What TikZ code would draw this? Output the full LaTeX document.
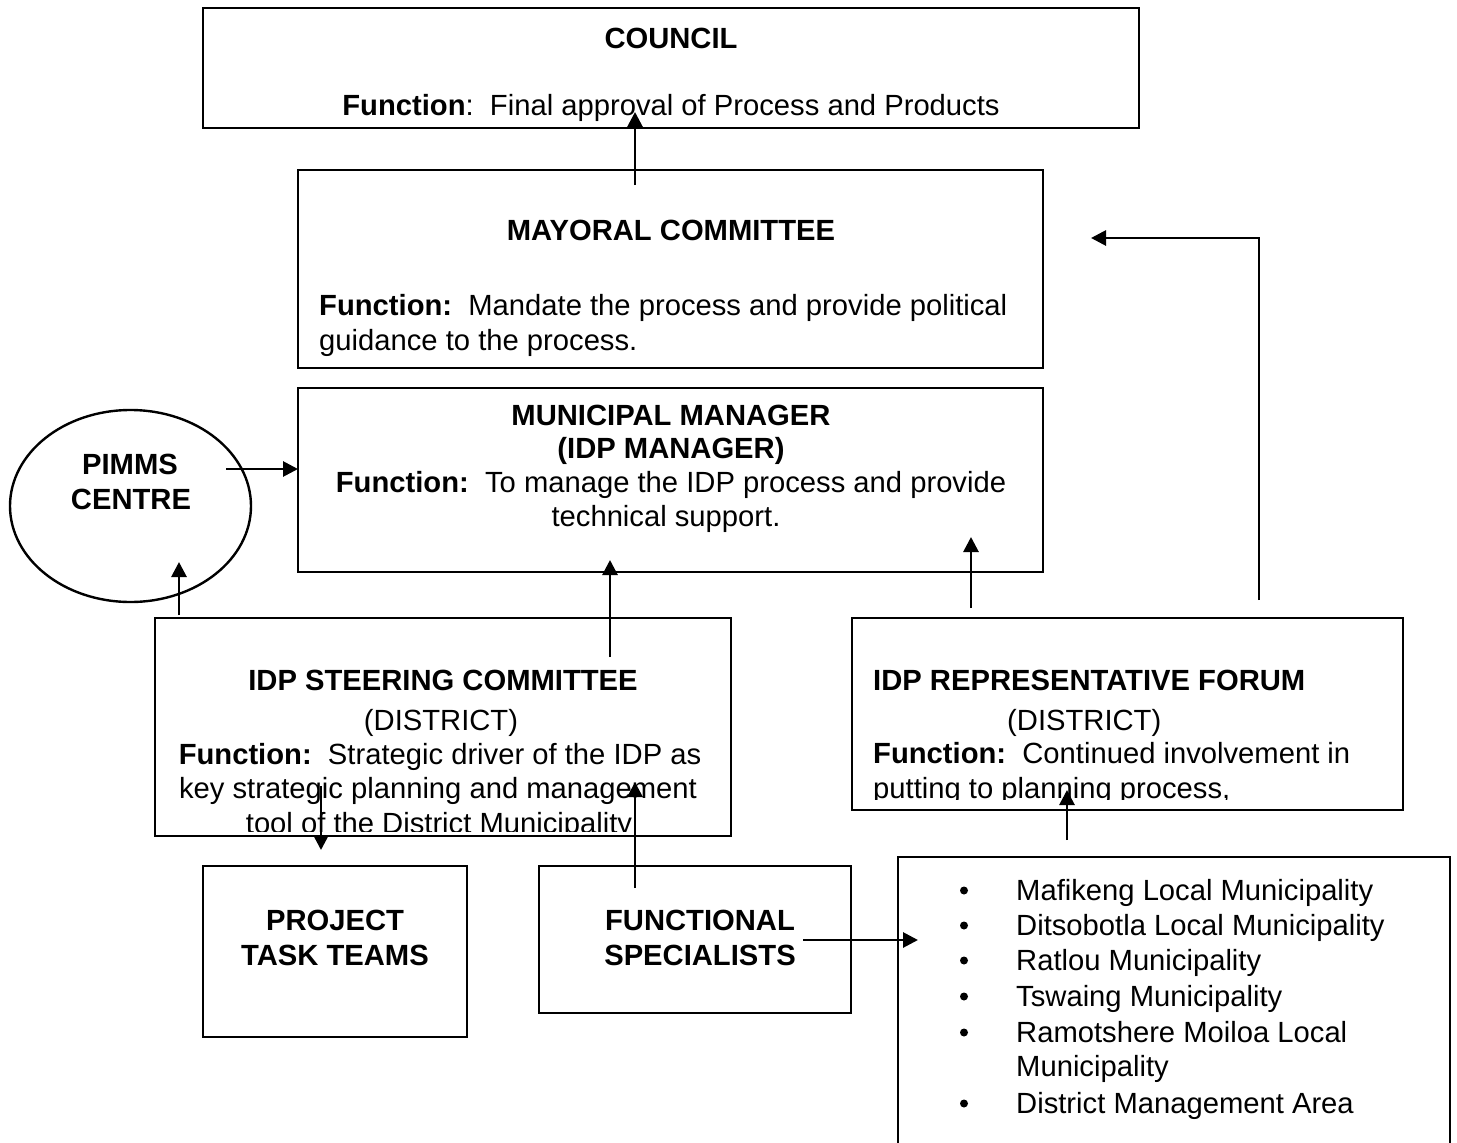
\documentclass[tikz,border=0pt]{standalone}
\usepackage{fontspec}
\setmainfont{Liberation Sans}
\usetikzlibrary{arrows.meta,shapes.geometric}
\begin{document}
\begin{tikzpicture}[x=1pt,y=-1pt,
  box/.style={draw, line width=2.4pt, inner sep=0pt},
  txt/.style={inner sep=0pt, anchor=base, font=\fontsize{29.2}{34}\selectfont},
  ltxt/.style={txt, anchor=base west},
  arr/.style={line width=2.8pt, -{Triangle[length=15pt,width=15pt]}},
  bul/.style={circle, fill=black, inner sep=0pt, minimum size=8pt}]
\clip (0,0) rectangle (1457,1143);
\fill[white] (0,0) rectangle (1457,1143);

% boxes
\node[box, minimum width=936pt, minimum height=120pt] (council) at (671,68) {};
\node[box, minimum width=745pt, minimum height=198pt] (mayor) at (670.5,269) {};
\node[box, minimum width=745pt, minimum height=184pt] (mm) at (670.5,480) {};
\node[box, ellipse, minimum width=241pt, minimum height=192pt] (pimms) at (130.5,506) {};
\node[box, minimum width=576pt, minimum height=218pt] (steer) at (443,727) {};
\node[box, minimum width=551pt, minimum height=192pt] (forum) at (1127.5,714) {};
\node[box, minimum width=264pt, minimum height=171pt] (ptt) at (335,951.5) {};
\node[box, minimum width=312pt, minimum height=147pt] (fs) at (695,939.5) {};
\node[box, minimum width=552pt, minimum height=303pt] (list) at (1174,1008.5) {};

% council
\node[txt] (councilT) at (671,48.5) {\bfseries COUNCIL};
\node[txt] (councilF) at (671,115.5) {\textbf{Function}:\ \ Final approval of Process and Products};
% mayoral
\node[txt] (mayorT) at (671,240.5) {\bfseries MAYORAL COMMITTEE};
\node[ltxt] (mayorF1) at (319,315.5) {\textbf{Function:}\ \ Mandate the process and provide political};
\node[ltxt] (mayorF2) at (319,350.5) {guidance to the process.};
% municipal manager
\node[txt] (mmT1) at (671,425.5) {\bfseries MUNICIPAL MANAGER};
\node[txt] (mmT2) at (671,458.5) {\bfseries (IDP MANAGER)};
\node[txt] (mmF1) at (671,492.5) {\textbf{Function:}\ \ To manage the IDP process and provide};
\node[txt] (mmF2) at (666,526.5) {technical support.};
% pimms
\node[txt] (pimmsT1) at (130,474.5) {\bfseries PIMMS};
\node[txt] (pimmsT2) at (131,509.5) {\bfseries CENTRE};
% steering
\node[txt] (steerT) at (443,690.5) {\bfseries IDP STEERING COMMITTEE};
\node[txt] (steerD) at (441,730.5) {(DISTRICT)};
\node[txt] (steerF1) at (440,764) {\textbf{Function:}\ \ Strategic driver of the IDP as};
\node[txt] (steerF2) at (438,798.5) {key strategic planning and management};
\begin{scope}
\clip (150,800) rectangle (740,831);
\node[txt] (steerF3) at (439,833) {tool of the District Municipality};
\end{scope}
% forum
\node[ltxt] (forumT) at (873,690.5) {\bfseries IDP REPRESENTATIVE FORUM};
\node[ltxt] (forumD) at (1007,730.5) {(DISTRICT)};
\node[ltxt] (forumF1) at (873,763.5) {\textbf{Function:}\ \ Continued involvement in};
\begin{scope}
\clip (860,770) rectangle (1400,799);
\node[ltxt] (forumF2) at (873,798.5) {putting to planning process,};
\end{scope}
% project task teams
\node[txt] (pttT1) at (335,930.5) {\bfseries PROJECT};
\node[txt] (pttT2) at (335,965.5) {\bfseries TASK TEAMS};
% functional specialists
\node[txt] (fsT1) at (700,930.5) {\bfseries FUNCTIONAL};
\node[txt] (fsT2) at (700,965.5) {\bfseries SPECIALISTS};
% list
\foreach \yy/\t/\b [count=\i] in {
  900.5/Mafikeng Local Municipality/1,
  935.5/Ditsobotla Local Municipality/1,
  970.5/Ratlou Municipality/1,
  1006.5/Tswaing Municipality/1,
  1042.5/Ramotshere Moiloa Local/1,
  1076.5/Municipality/0,
  1113.5/District Management Area/1}{
  \node[ltxt] (item\i) at (1016,\yy) {\t};
  \ifnum\b=1 \node[bul] (bul\i) at (964,\yy-10) {};\fi
}

% connectors
\coordinate (a1s) at (635,185);  \coordinate (a1e) at (635,112);
\coordinate (a2s) at (226,469);  \coordinate (a2e) at (298,469);
\coordinate (a3s) at (179,615);  \coordinate (a3e) at (179,562);
\coordinate (a4s) at (610,657);  \coordinate (a4e) at (610,560);
\coordinate (a5s) at (971,608);  \coordinate (a5e) at (971,537);
\coordinate (a6s) at (1259,600); \coordinate (a6m) at (1259,238); \coordinate (a6e) at (1091,238);
\coordinate (a7s) at (321,786);  \coordinate (a7e) at (321,850);
\coordinate (a8s) at (635,888);  \coordinate (a8e) at (635,782);
\coordinate (a9s) at (803,940);  \coordinate (a9e) at (918,940);
\coordinate (a10s) at (1067,840); \coordinate (a10e) at (1067,790);
\draw[arr] (a1s) -- (a1e);
\draw[arr] (a2s) -- (a2e);
\draw[arr] (a3s) -- (a3e);
\draw[arr] (a4s) -- (a4e);
\draw[arr] (a5s) -- (a5e);
\draw[arr] (a6s) -- (a6m) -- (a6e);
\draw[arr] (a7s) -- (a7e);
\draw[arr] (a8s) -- (a8e);
\draw[arr] (a9s) -- (a9e);
\draw[arr] (a10s) -- (a10e);
\end{tikzpicture}
\end{document}
